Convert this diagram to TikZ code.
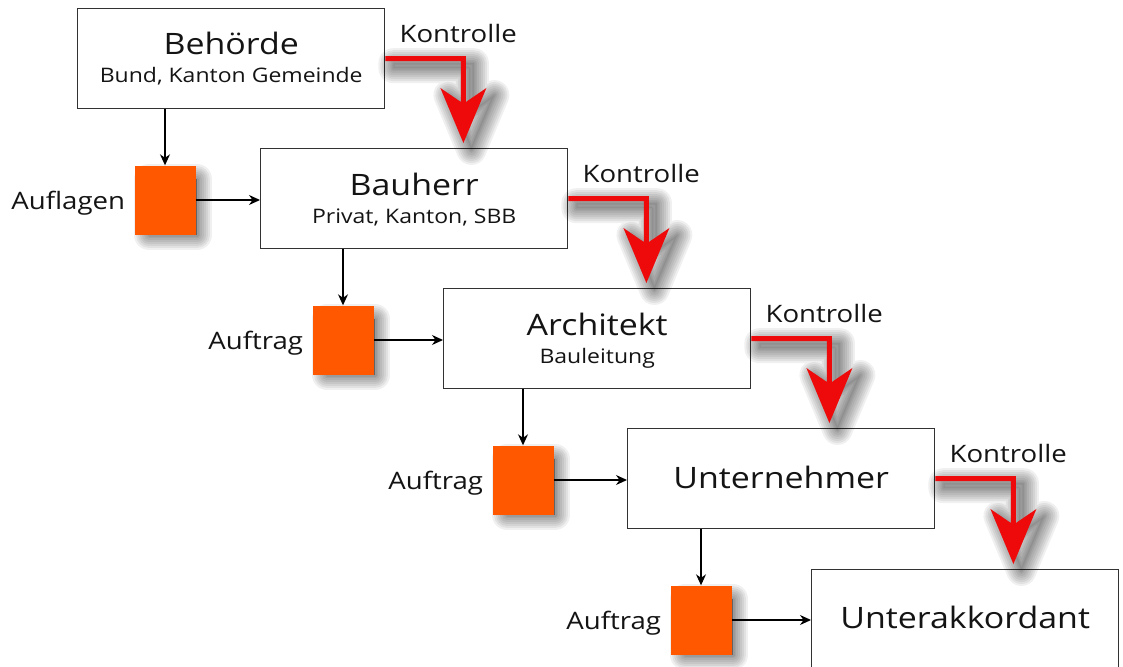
\documentclass[tikz,border=0pt]{standalone}
\usepackage{fontspec}
\setmainfont{Open Sans}[FakeStretch=1.15]
\usetikzlibrary{calc,arrows.meta}
\definecolor{sqorange}{RGB}{255,88,0}
\definecolor{ctrlred}{RGB}{238,10,10}
\definecolor{boxline}{RGB}{50,50,50}
\definecolor{txt}{RGB}{20,20,20}
\newcommand\mysoftshadow[4]{% #1,#2 = shift, #3 = fill opacity, #4 = path
  \begin{scope}[transform canvas={xshift=#1,yshift=#2}]
  \path[fill=black,fill opacity=#3] #4;
  \foreach \w in {30,26,22,18,14,10,6,3}{
    \path[draw=black,draw opacity=0.06,line width=\w pt,line join=round] #4;
  }
  \end{scope}
}
\newcommand\myctrlpath[1]{($(#1.east)+(0,-2.5)$) -- ($(#1c)+(2.5,-2.5)$) -- ($(#1t)+(2.5,-41)$)
    -- ($(#1t)+(23,-55)$) -- (#1t) -- ($(#1t)+(-23,-55)$) -- ($(#1t)+(-2.5,-41)$)
    -- ($(#1c)+(-2.5,2.5)$) -- ($(#1.east)+(0,2.5)$) -- cycle}
\begin{document}
\begin{tikzpicture}[x=1pt,y=-1pt,
  box/.style={draw=boxline,line width=1.4pt,fill=white,minimum width=307pt,minimum height=100pt,inner sep=0pt,anchor=north west},
  sq/.style={fill=sqorange,minimum width=61pt,minimum height=69pt,inner sep=0pt},
  title/.style={font=\fontsize{29.5}{30}\selectfont,text=txt,anchor=base,inner sep=0pt},
  sub/.style={font=\fontsize{20}{22}\selectfont,text=txt,anchor=base,inner sep=0pt},
  lab/.style={font=\fontsize{24}{26}\selectfont,text=txt,inner sep=0pt},
  conn/.style={-{Stealth[length=11pt,width=10pt]},line width=1.3pt,draw=black},
  ctrl/.style={fill=ctrlred}
]
\useasboundingbox[fill=white] (0,0) rectangle (1123,666);

% boxes
\node[box] (b1) at (77,8) {};
\node[box] (b2) at (260,148) {};
\node[box] (b3) at (443,288) {};
\node[box] (b4) at (627,428) {};
\node[box] (b5) at (811,569) {};

% box texts
\node[title] (b1t) at ($(b1.north)+(0,47)$) {Behörde};
\node[sub]   (b1s) at ($(b1.north)+(0,75)$) {Bund, Kanton Gemeinde};
\node[title] (b2t) at ($(b2.north)+(0,47)$) {Bauherr};
\node[sub]   (b2s) at ($(b2.north)+(0,75)$) {Privat, Kanton, SBB};
\node[title] (b3t) at ($(b3.north)+(0,47)$) {Architekt};
\node[sub]   (b3s) at ($(b3.north)+(0,75)$) {Bauleitung};
\node[title] (b4t) at ($(b4.north)+(0,60)$) {Unternehmer};
\node[title] (b5t) at ($(b5.north)+(0,59)$) {Unterakkordant};

% orange squares (positions)
\path (165,200) coordinate (s1p) (343,340) coordinate (s2p)
      (523,480) coordinate (s3p) (701,620) coordinate (s4p);
% shadows of squares
\foreach \s in {s1p,s2p,s3p,s4p}{
  \mysoftshadow{8pt}{-7pt}{0.35}{($(\s)+(-24,-28)$) rectangle ($(\s)+(24,28)$)}
}
\node[sq] (s1) at (s1p) {};
\node[sq] (s2) at (s2p) {};
\node[sq] (s3) at (s3p) {};
\node[sq] (s4) at (s4p) {};

% labels left of squares
\node[lab,anchor=base east] (l1) at ($(s1.west)+(-9,9)$) {Auflagen};
\node[lab,anchor=base east] (l2) at ($(s2.west)+(-9,9)$) {Auftrag};
\node[lab,anchor=base east] (l3) at ($(s3.west)+(-9,9)$) {Auftrag};
\node[lab,anchor=base east] (l4) at ($(s4.west)+(-9,9)$) {Auftrag};

% black connectors
\foreach \b/\s/\n in {b1/s1/b2,b2/s2/b3,b3/s3/b4,b4/s4/b5}{
  \draw[conn] (\b.south -| \s) -- (\s.north);
  \draw[conn] (\s.east) -- (\s.east -| \n.west);
}

% red Kontrolle arrows
\foreach \a/\b in {b1/b2,b2/b3,b3/b4,b4/b5}{
  \coordinate (\a c) at ($(\a.east)+(78,0)$);
  \coordinate (\a t) at ($(\a c |- \b.north)+(0,-5)$);
}
\foreach \a in {b1,b2,b3,b4}{
  \mysoftshadow{8pt}{-7pt}{0.06}{\myctrlpath{\a}}
}
\foreach \a in {b1,b2,b3,b4}{
  \fill[ctrl] \myctrlpath{\a};
  \node[lab,anchor=base west] (\a k) at ($(\a.east)+(14,-16)$) {Kontrolle};
}
\end{tikzpicture}
\end{document}
